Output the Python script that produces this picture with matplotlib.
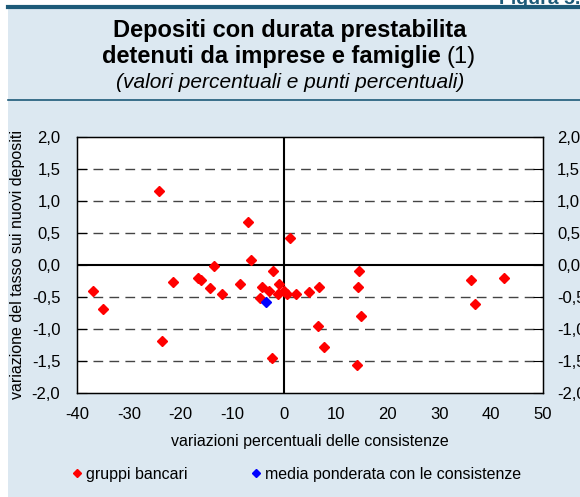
import matplotlib
matplotlib.use("Agg")
import matplotlib.pyplot as plt
from matplotlib.lines import Line2D

plt.rcParams['font.family'] = ['Liberation Sans', 'DejaVu Sans']

# gruppi bancari: variazione consistenze (%) e variazione tasso (p.p.)
gruppi_x = [-36.9, -34.9, -24.1, -23.6, -21.4, -16.6, -16.1, -14.3, -13.5, -12.0,
            -8.6, -6.9, -6.4, -4.7, -4.2, -3.0, -2.4, -2.1, -1.2, -1.0,
            -0.1, 0.5, 1.2, 2.3, 4.9, 6.6, 6.8, 7.8, 14.0, 14.2,
            14.5, 14.9, 36.1, 36.8, 42.4]
gruppi_y = [-0.41, -0.68, 1.16, -1.18, -0.26, -0.20, -0.24, -0.36, -0.01, -0.45,
            -0.29, 0.67, 0.08, -0.52, -0.34, -0.40, -1.46, -0.09, -0.45, -0.30,
            -0.40, -0.45, 0.42, -0.45, -0.42, -0.96, -0.35, -1.28, -1.57, -0.34,
            -0.09, -0.80, -0.24, -0.61, -0.21]
media_x = [-3.5]
media_y = [-0.58]

xticks = [-40, -30, -20, -10, 0, 10, 20, 30, 40, 50]
yticks = [-2.0, -1.5, -1.0, -0.5, 0.0, 0.5, 1.0, 1.5, 2.0]
ylabels = [f"{v:.1f}".replace('.', ',') for v in yticks]

bg = '#dce8f1'
teal = '#1d5a78'
W, H = 580, 497

fig = plt.figure(figsize=(5.8, 4.97), dpi=100)
fig.patch.set_facecolor('white')

# sfondo azzurro e righe del riquadro
fig.patches.append(plt.Rectangle((8 / W, 0), 1, 1 - 8 / H, transform=fig.transFigure,
                                 facecolor=bg, edgecolor='none', zorder=-10))
fig.add_artist(Line2D([8 / W, 1], [1 - 7 / H, 1 - 7 / H], color=teal, lw=3))
fig.add_artist(Line2D([8 / W, 1], [1 - 100 / H, 1 - 100 / H], color=teal, lw=1.2))
fig.text(1.0, 1 - 0 / H, 'Figura 5.', color=teal, fontsize=14, fontweight='bold',
         ha='right', va='center')

fig.text(0.5, 1 - 31 / H, 'Depositi con durata prestabilita', fontsize=17,
         fontweight='bold', ha='center', va='center')
fig.text(441 / W, 1 - 57 / H, 'detenuti da imprese e famiglie', fontsize=17,
         fontweight='bold', ha='right', va='center')
fig.text(447 / W, 1 - 57 / H, '(1)', fontsize=17, ha='left', va='center')
fig.text(0.5, 1 - 82 / H, '(valori percentuali e punti percentuali)', fontsize=15,
         style='italic', ha='center', va='center')

ax = fig.add_axes([77 / W, 1 - 393 / H, 466 / W, 256 / H])
ax.set_facecolor('white')
ax.set_xlim(-40, 50)
ax.set_ylim(-2, 2)

for v in yticks:
    if v == 0:
        ax.axhline(0, color='black', lw=1.5, zorder=1)
    elif abs(v) < 2:
        ax.axhline(v, color='#444444', lw=1, dashes=(7, 4.5), zorder=1)
ax.axvline(0, color='black', lw=1.5, zorder=1)

ax.plot(gruppi_x, gruppi_y, 'D', color='red', markersize=5.3, ls='none', zorder=3)
ax.plot(media_x, media_y, 'D', color='blue', markersize=5.3, ls='none', zorder=3)

ax.set_xticks(xticks)
ax.set_xticklabels([str(t) for t in xticks])
ax.tick_params(axis='x', length=0, labelsize=12, pad=10)
ax.set_yticks(yticks)
ax.set_yticklabels(ylabels)
ax.tick_params(axis='y', direction='in', length=7, labelsize=12, pad=12,
               left=True, right=True, labelleft=True, labelright=False)
for s in ax.spines.values():
    s.set_linewidth(1)

# etichette asse destro
ax2 = ax.twinx()
ax2.set_ylim(-2, 2)
ax2.set_yticks(yticks)
ax2.set_yticklabels(ylabels)
ax2.tick_params(axis='y', direction='in', length=7, labelsize=12, pad=10)

ax.set_xlabel('variazioni percentuali delle consistenze', fontsize=11.5, labelpad=9)
ax.set_ylabel('variazione del tasso sui nuovi depositi', fontsize=11.5, labelpad=5)

handles = [Line2D([], [], marker='D', color='red', ls='none', markersize=4),
           Line2D([], [], marker='D', color='blue', ls='none', markersize=4)]
fig.legend(handles, ['gruppi bancari', 'media ponderata con le consistenze'],
           loc='center left', bbox_to_anchor=(55 / W, 1 - 474 / H), ncol=2,
           frameon=False, fontsize=11.5, handletextpad=0.05, columnspacing=3.8,
           handlelength=1.0)

fig.savefig('out.png', dpi=100, facecolor=fig.get_facecolor())
